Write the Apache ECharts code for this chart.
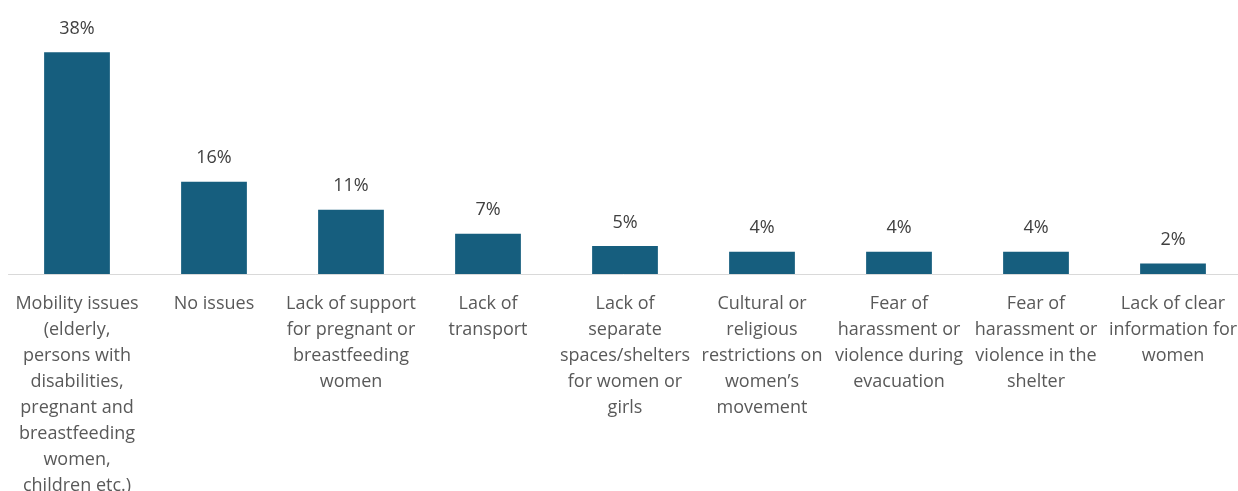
<!DOCTYPE html>
<html>
<head>
<meta charset="utf-8">
<script src="https://cdn.jsdelivr.net/npm/echarts@6/dist/echarts.min.js"></script>
<style>html,body{margin:0;padding:0;background:#fff}#c{width:1238px;height:491px}</style>
</head>
<body>
<div id="c"></div>
<script>
const categories = [
  "Mobility issues\n(elderly,\npersons with\ndisabilities,\npregnant and\nbreastfeeding\nwomen,\nchildren etc.)",
  "No issues",
  "Lack of support\nfor pregnant or\nbreastfeeding\nwomen",
  "Lack of\ntransport",
  "Lack of\nseparate\nspaces/shelters\nfor women or\ngirls",
  "Cultural or\nreligious\nrestrictions on\nwomen’s\nmovement",
  "Fear of\nharassment or\nviolence during\nevacuation",
  "Fear of\nharassment or\nviolence in the\nshelter",
  "Lack of clear\ninformation for\nwomen"
];
const values = [38, 15.8, 11, 6.9, 4.8, 3.8, 3.8, 3.8, 1.8];

const chart = echarts.init(document.getElementById('c'), null, {renderer: 'canvas'});
chart.setOption({
  animation: false,
  grid: {left: 8.5, right: -3.5, top: 40.6, bottom: 217, containLabel: false, outerBoundsMode: 'none'},
  xAxis: {
    type: 'category',
    data: categories,
    axisLine: {lineStyle: {color: '#d9d9d9', width: 1}},
    axisTick: {show: false},
    axisLabel: {
      interval: 0,
      color: '#595959',
      fontFamily: 'Open Sans',
      fontSize: 18,
      lineHeight: 26,
      margin: 16.5,
      verticalAlign: 'top'
    }
  },
  yAxis: {
    type: 'value', min: 0, max: 40, show: false,
    splitLine: {show: false}
  },
  series: [{
    type: 'bar',
    data: values,
    barWidth: '48%',
    itemStyle: {color: '#165e7e'},
    label: {
      show: true,
      position: 'top',
      distance: 14.5,
      color: '#404040',
      fontFamily: 'Open Sans',
      fontSize: 18,
      formatter: p => Math.round(p.value) + '%'
    }
  }]
});
</script>
</body>
</html>
